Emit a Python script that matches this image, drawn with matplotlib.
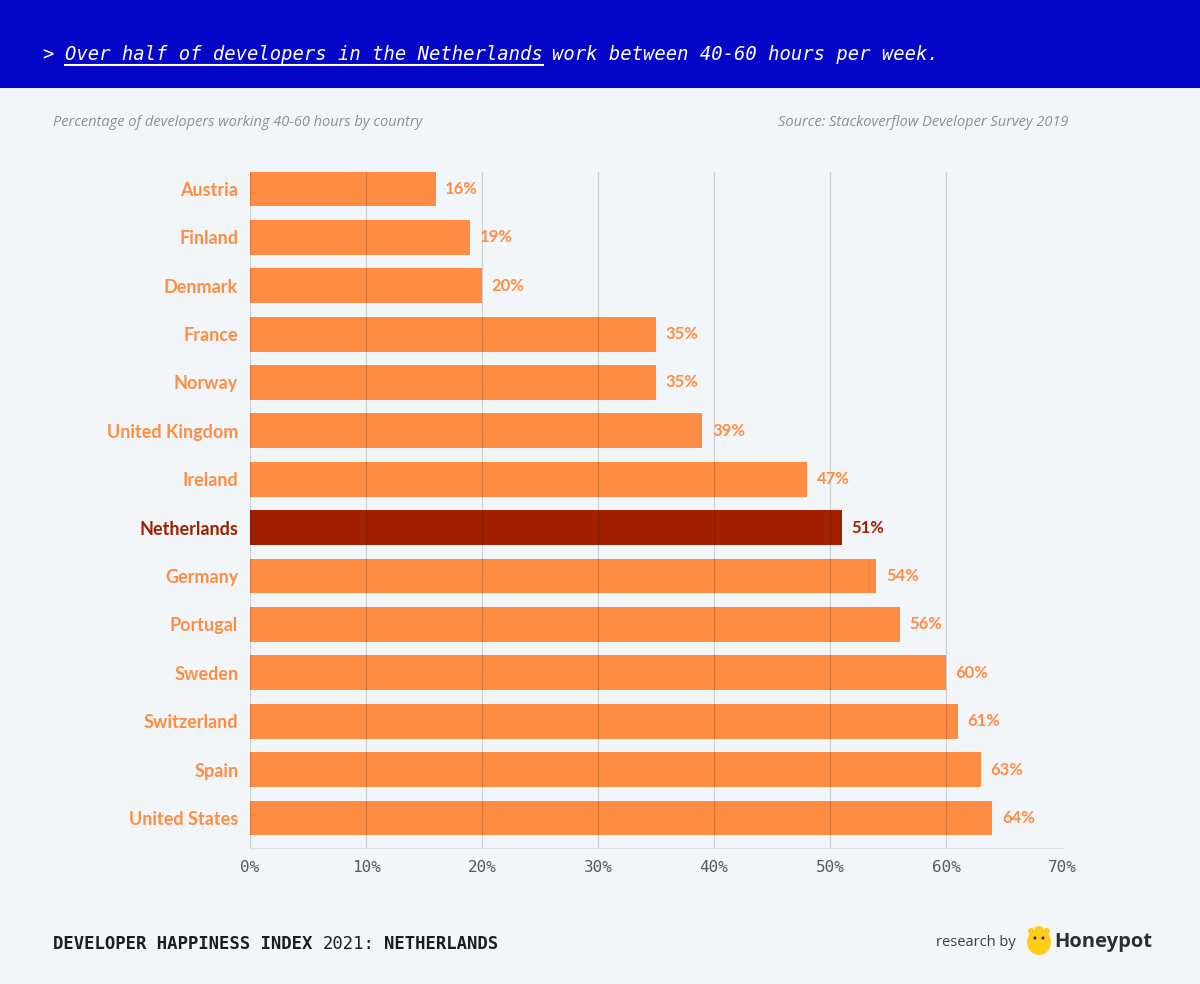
import matplotlib
matplotlib.use("Agg")
import matplotlib.pyplot as plt
from matplotlib.patches import Rectangle, Ellipse
from matplotlib.ticker import FuncFormatter

countries = ["Austria", "Finland", "Denmark", "France", "Norway", "United Kingdom",
             "Ireland", "Netherlands", "Germany", "Portugal", "Sweden", "Switzerland",
             "Spain", "United States"]
values = [16, 19, 20, 35, 35, 39, 48, 51, 54, 56, 60, 61, 63, 64]
value_labels = ["16%", "19%", "20%", "35%", "35%", "39%", "47%", "51%", "54%", "56%",
                "60%", "61%", "63%", "64%"]
highlight = "Netherlands"
x_ticks = [0, 10, 20, 30, 40, 50, 60, 70]

W, H = 1200, 984
BG = "#F3F6F9"
ORANGE = "#FF8C42"
DARK = "#A02000"
BLUE = "#0505C8"

fig = plt.figure(figsize=(W / 100, H / 100), dpi=100, facecolor=BG)

def fx(px):
    return px / W

def fy(py):
    return 1 - py / H

# header band
fig.patches.append(Rectangle((0, fy(88)), 1, 88 / H, transform=fig.transFigure,
                             facecolor=BLUE, edgecolor="none", zorder=0))

mono = "DejaVu Sans Mono"
TS = 13.6
fig.text(fx(42), fy(55), ">", color="white", fontsize=TS, family=mono,
         va="center", ha="left")
t1 = fig.text(fx(65), fy(55), "Over half of developers in the Netherlands", color="white",
              fontsize=TS, family=mono, style="italic", va="center", ha="left")
fig.canvas.draw()
r = fig.canvas.get_renderer()
bb = t1.get_window_extent(r)
x_end = bb.x1 / W
fig.text(x_end + fx(9), fy(55), "work between 40-60 hours per week.", color="white",
         fontsize=TS, family=mono, style="italic", va="center", ha="left")
fig.add_artist(plt.Line2D([fx(65), x_end], [fy(65), fy(65)], color="white", lw=1.5,
                          transform=fig.transFigure))

# subtitle / source
fig.text(fx(53), fy(122), "Percentage of developers working 40-60 hours by country",
         color="#8A8F98", fontsize=10.5, style="italic", va="center", ha="left", family="Open Sans")
fig.text(fx(1068), fy(122), "Source: Stackoverflow Developer Survey 2019",
         color="#8A8F98", fontsize=10.5, style="italic", va="center", ha="right", family="Open Sans")

# axes
ax = fig.add_axes([fx(250), fy(848), fx(1062) - fx(250), (848 - 172) / H])
ax.set_facecolor(BG)
ypos = list(range(len(countries)))
colors = [DARK if c == highlight else ORANGE for c in countries]
ax.barh(ypos, values, height=0.72, color=colors, zorder=1)
ax.set_xlim(0, 70)
ax.set_ylim(13.62, -0.35)
ax.set_xticks(x_ticks)
ax.xaxis.set_major_formatter(FuncFormatter(lambda v, p: f"{int(v)}%"))
ax.grid(axis="x", color="black", alpha=0.15, lw=0.9, zorder=2)
ax.set_axisbelow(False)
for s in ["top", "right", "left"]:
    ax.spines[s].set_visible(False)
ax.spines["bottom"].set_color("#DCDFE3")
ax.tick_params(axis="x", length=0, pad=9, labelsize=11.5, labelcolor="#555A62")
for lab in ax.get_xticklabels():
    lab.set_family(mono)
ax.set_yticks(ypos)
ax.set_yticklabels(countries)
ax.tick_params(axis="y", length=0, pad=8.5, labelsize=13)
for lab, c in zip(ax.get_yticklabels(), colors):
    lab.set_color(c)
    lab.set_fontweight("bold")
    lab.set_family("Lato")

for y, v, lbl, c in zip(ypos, values, value_labels, colors):
    ax.annotate(lbl, (v, y), xytext=(7, 0), textcoords="offset points",
                va="center", ha="left", color=c, fontsize=12, fontweight="bold",
                family="Lato")

# footer
FS = 12.4
f1 = fig.text(fx(53), fy(944), "DEVELOPER HAPPINESS INDEX ", color="#1B1D22", fontsize=FS,
              family=mono, fontweight="bold", va="center", ha="left")
fig.canvas.draw()
bb = f1.get_window_extent(r)
f2 = fig.text(bb.x1 / W, fy(944), "2021:", color="#1B1D22", fontsize=FS, family=mono,
              va="center", ha="left")
bb2 = f2.get_window_extent(r)
fig.text(bb2.x1 / W + fx(9), fy(944), "NETHERLANDS", color="#1B1D22", fontsize=FS,
         family=mono, fontweight="bold", va="center", ha="left")

fig.text(fx(1016), fy(943), "research by", color="#3A3D44", fontsize=10.5,
         family="Open Sans", va="center", ha="right")
# logo
for (cx, cy, w, h) in [(1039, 942, 24, 26), (1039, 929, 9, 6), (1031, 931, 6, 6), (1047, 931, 6, 6)]:
    fig.patches.append(Ellipse((fx(cx), fy(cy)), fx(w), h / H, transform=fig.transFigure,
                               facecolor="#FFCC1A", edgecolor="none"))
for (cx, cy) in [(1035, 938), (1043, 938)]:
    fig.patches.append(Ellipse((fx(cx), fy(cy)), fx(3), 3 / H, transform=fig.transFigure,
                               facecolor="#2B2E35", edgecolor="none"))
fig.text(fx(1054), fy(942), "Honeypot", color="#2B2E35", fontsize=14.5,
         family="Open Sans", fontweight="bold", va="center", ha="left")

fig.savefig("out.png", dpi=100, facecolor=BG)
